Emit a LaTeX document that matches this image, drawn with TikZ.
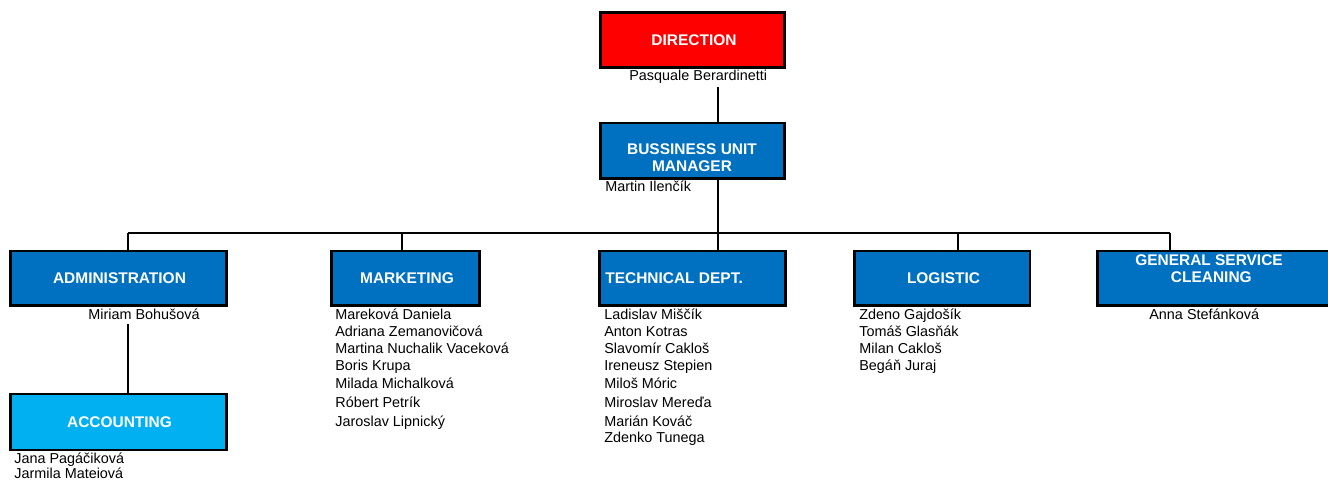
\documentclass[tikz,border=0pt]{standalone}
\usepackage{fontspec}
\setmainfont{Liberation Sans}
\usepackage{tikz}
\usetikzlibrary{positioning, calc}
\definecolor{dirred}{RGB}{255, 0, 0}
\definecolor{unitblue}{RGB}{0, 112, 192}
\definecolor{acclight}{RGB}{0, 176, 240}

\begin{document}
\begin{tikzpicture}[x=0.02cm, y=-0.02cm,
    unitbox/.style={draw=black, line width=1.7pt, fill=unitblue, minimum height=1.1cm, inner sep=0pt},
    boxtext/.style={font=\fontsize{8.8}{9.6}\selectfont\bfseries, text=white, align=center, inner sep=0pt},
    person/.style={font=\fontsize{8.2}{9.9}\selectfont, anchor=base west, inner sep=0pt},
    link/.style={line width=1.3pt, black}]
    \useasboundingbox (0,0) rectangle (1328,482);
    \clip (0,0) rectangle (1328,482);

    % Top level
    \node[unitbox, fill=dirred, minimum width=3.7cm] (dir) at (692.5,40) {};
    \node[boxtext] (dir-t) at (694,40) {DIRECTION};
    \node[person] (dir-p) at (629,81) {Pasquale Berardinetti};

    \node[unitbox, minimum width=3.7cm, minimum height=1.12cm] (bu) at (692.5,151) {};
    \node[boxtext] (bu-t) at (692,158) {BUSSINESS UNIT\\MANAGER};
    \node[person] (bu-p) at (605,192) {Martin Ilenčík};

    % Departments
    \node[unitbox, minimum width=4.34cm] (adm) at (118.5,278.5) {};
    \node[boxtext] (adm-t) at (119.5,278) {ADMINISTRATION};
    \node[person] (adm-p) at (88,320) {Miriam Bohušová};

    \node[unitbox, minimum width=2.98cm] (mkt) at (405.5,278.5) {};
    \node[boxtext] (mkt-t) at (407,278) {MARKETING};

    \node[unitbox, minimum width=3.74cm] (tec) at (692.5,278.5) {};
    \node[boxtext, anchor=west] (tec-t) at (605,278) {TECHNICAL DEPT.};

    \node[unitbox, minimum width=3.52cm] (log) at (942,278.5) {};
    \node[boxtext] (log-t) at (943.5,278) {LOGISTIC};

    \node[unitbox, minimum width=4.92cm] (gen) at (1345,278.5) [anchor=east] {};
    \node[boxtext] (gen-t) at (1209,269) {GENERAL SERVICE\\\hspace*{0.3em}CLEANING};
    \node[person] (gen-p) at (1149,320) {Anna Stefánková};

    % Accounting under administration
    \node[unitbox, fill=acclight, minimum width=4.34cm, minimum height=1.12cm] (acc) at (118.5,422) {};
    \node[boxtext] (acc-t) at (119.5,422) {ACCOUNTING};
    \node[person] (acc-p1) at (14,463) {Jana Pagáčiková};
    \node[person] (acc-p2) at (14,479) {Jarmila Mateiová};

    % Staff lists
    \foreach \who/\y [count=\i] in {Mareková Daniela/320, Adriana Zemanovičová/337,
        Martina Nuchalik Vaceková/354, Boris Krupa/371, Milada Michalková/389,
        Róbert Petrík/408, Jaroslav Lipnický/427}
        \node[person] (mkt-p\i) at (335,\y) {\who};
    \foreach \who/\y [count=\i] in {Ladislav Miščík/320, Anton Kotras/337,
        Slavomír Cakloš/354, Ireneusz Stepien/371, Miloš Móric/389,
        Miroslav Mereďa/408, Marián Kováč/427, Zdenko Tunega/443}
        \node[person] (tec-p\i) at (604,\y) {\who};
    \foreach \who/\y [count=\i] in {Zdeno Gajdošík/320, Tomáš Glasňák/337,
        Milan Cakloš/354, Begáň Juraj/371}
        \node[person] (log-p\i) at (859,\y) {\who};

    % Connectors
    \coordinate (d-out) at (718,87);
    \draw[link] (d-out) -- (d-out |- bu.north);
    \coordinate (bus) at (718,233);
    \draw[link] (bu.south -| bus) -- (bus);
    \coordinate (j1) at (128,233);
    \coordinate (j2) at (402,233);
    \coordinate (j4) at (958,233);
    \coordinate (j5) at (1170,233);
    \draw[link] (j1) -- (j5);
    \foreach \j/\d in {j1/adm, j2/mkt, bus/tec, j4/log, j5/gen}
        \draw[link] (\j) -- (\j |- \d.north);
    \coordinate (a-out) at (128,324);
    \draw[link] (a-out) -- (a-out |- acc.north);
\end{tikzpicture}
\end{document}
